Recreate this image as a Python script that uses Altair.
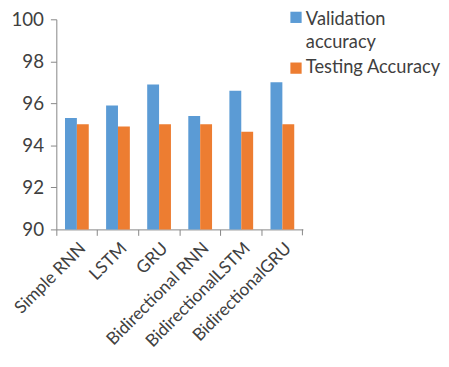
import altair as alt
import pandas as pd

models = ["Simple RNN", "LSTM", "GRU", "Bidirectional RNN", "BidirectionalLSTM", "BidirectionalGRU"]
series = ["Validation accuracy", "Testing Accuracy"]
legend_lines = [["Validation", "accuracy"], ["Testing Accuracy"]]
validation = [95.3, 95.9, 96.9, 95.4, 96.6, 97.0]
testing = [95.0, 94.9, 95.0, 95.0, 94.65, 95.0]
colors = ["#5B9BD5", "#ED7D31"]

rows = []
for m, v, t in zip(models, validation, testing):
    rows.append({"model": m, "series": series[0], "value": v})
    rows.append({"model": m, "series": series[1], "value": t})
df = pd.DataFrame(rows)

FONT = "Lato"
TXT = "#404040"
AXC = "#868686"
W, H = 250, 213

bars = alt.Chart(df).mark_bar(clip=True).encode(
    x=alt.X("model:N", sort=models, title=None,
            scale=alt.Scale(paddingInner=0, paddingOuter=0),
            axis=alt.Axis(labelAngle=-45, labelFontSize=17.5, labelColor=TXT,
                          labelFont=FONT, bandPosition=0, tickSize=6,
                          domainColor=AXC, tickColor=AXC,
                          labelPadding=4, labelLimit=300)),
    xOffset=alt.XOffset("series:N", sort=series,
                        scale=alt.Scale(paddingInner=0, paddingOuter=0.73)),
    y=alt.Y("value:Q", title=None,
            scale=alt.Scale(domain=[90, 100], nice=False, zero=False),
            axis=alt.Axis(values=[90, 92, 94, 96, 98, 100], grid=False,
                          labelFontSize=19, labelColor=TXT, labelFont=FONT,
                          tickSize=6, labelPadding=7,
                          domainColor=AXC, tickColor=AXC)),
    color=alt.Color("series:N", sort=series,
                    scale=alt.Scale(domain=series, range=colors), legend=None),
)

# closing tick at the right end of the category axis
end_tick = alt.Chart(pd.DataFrame({"model": [models[-1]]})).mark_rule(color=AXC).encode(
    x=alt.value(W - 0.5), y=alt.value(H), y2=alt.value(H + 6))

# manual legend (symbol + wrapped label), one entry per series
legend_layers = []
sym_y = [-2, 49.5]
txt_y = [-9, 39]
for s, lines, c, sy, ty in zip(series, legend_lines, colors, sym_y, txt_y):
    src = pd.DataFrame({"series": [s]})
    legend_layers.append(
        alt.Chart(src).mark_square(size=130, opacity=1).encode(
            x=alt.value(243), y=alt.value(sy), color=alt.value(c))
    )
    legend_layers.append(
        alt.Chart(src).mark_text(align="left", baseline="top", fontSize=18.5,
                                 font=FONT, color=TXT, lineHeight=23).encode(
            x=alt.value(253), y=alt.value(ty), text=alt.value(lines))
    )

chart = alt.layer(bars, end_tick, *legend_layers).properties(
    width=W, height=H,
    autosize=alt.AutoSizeParams(type="none"),
    padding={"left": 49, "top": 9, "right": 140, "bottom": 135},
).configure_view(stroke=None)

chart.save("out.html", embed_options={"renderer": "svg", "actions": False})
